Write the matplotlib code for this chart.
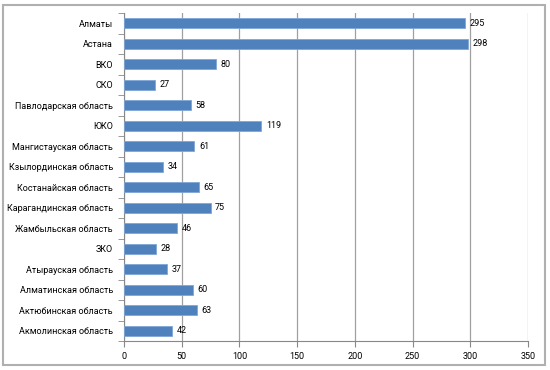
import matplotlib
matplotlib.use("Agg")
import matplotlib.pyplot as plt
from matplotlib.patches import Rectangle

categories = ["Алматы", "Астана", "ВКО", "СКО", "Павлодарская область", "ЮКО",
              "Мангистауская область", "Кзылординская область", "Костанайская область",
              "Карагандинская область", "Жамбыльская область", "ЗКО",
              "Атырауская область", "Алматинская область", "Актюбинская область",
              "Акмолинская область"]
values = [295, 298, 80, 27, 58, 119, 61, 34, 65, 75, 46, 28, 37, 60, 63, 42]
xticks = [0, 50, 100, 150, 200, 250, 300, 350]

plt.rcParams['font.family'] = ['Roboto', 'DejaVu Sans']
fig = plt.figure(figsize=(5.5, 3.7), dpi=100)
fig.patch.set_facecolor("white")
# outer border
fig.add_artist(Rectangle((3/550, 5/370), 542/550, 360/370, transform=fig.transFigure,
                         fill=False, edgecolor="#b0b0b0", linewidth=1.5))

ax = fig.add_axes([124/550, 1 - 341/370, (528-124)/550, (341-13)/370])
n = len(categories)
pos = list(range(n))
ax.barh(pos, values, height=0.5, color="#4F81BD", edgecolor="#7FA6D6", linewidth=0.6, zorder=3)
ax.set_ylim(n - 0.5, -0.5)
ax.set_xlim(0, 350)
ax.set_xticks(xticks)
ax.set_xticklabels([str(t) for t in xticks], fontsize=6.5)
ax.set_yticks(pos)
ax.set_yticklabels(categories, fontsize=6.5)
ax.tick_params(axis="y", length=0, pad=8)
ax.set_yticks([i + 0.5 for i in range(-1, n)], minor=True)
ax.tick_params(axis="y", which="minor", length=4, color="#888888")
ax.tick_params(axis="x", length=4, color="#888888", pad=4)
ax.grid(axis="x", color="#a0a0a0", linewidth=0.9, zorder=0)
for s in ["top", "right"]:
    ax.spines[s].set_visible(False)
for s in ["left", "bottom"]:
    ax.spines[s].set_color("#888888")
    ax.spines[s].set_linewidth(0.8)

for p, v in zip(pos, values):
    ax.text(v + 4, p, str(v), va="center", ha="left", fontsize=6.5, zorder=4)

fig.savefig("out.png", dpi=100)
